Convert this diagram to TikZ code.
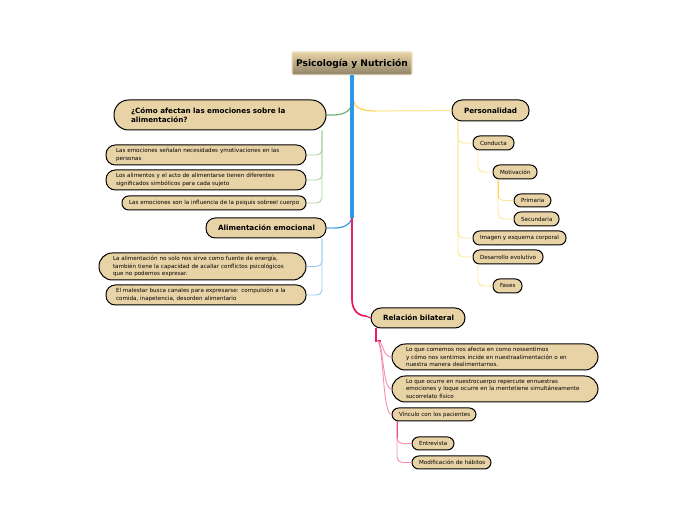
\documentclass[tikz,border=0pt]{standalone}
\usepackage{fontspec}
\setmainfont{DejaVu Sans}
\usetikzlibrary{calc}
\definecolor{fillc}{HTML}{E8D3A6}
\definecolor{gr}{HTML}{6DB36D}\definecolor{grl}{HTML}{A5D6A0}
\definecolor{bl}{HTML}{2E96E6}\definecolor{bll}{HTML}{96CCF3}
\definecolor{ye}{HTML}{FFD54F}\definecolor{yel}{HTML}{FFE798}
\definecolor{pk}{HTML}{E91E63}\definecolor{pkl}{HTML}{F78FB3}
\tikzset{
 topicbox/.style={draw=black,line width=.75pt,fill=fillc,rounded corners=#1,text=black},
 subtxt/.style={font=\fontsize{4.2}{5.5}\selectfont},
 maintxt/.style={font=\bfseries\fontsize{5.4}{7.1}\selectfont,text=black},
 conn/.style={line width=.7pt,rounded corners=4pt},
}
% name, x1,y1,x2,y2, pad, radius, style, text
\newcommand{\tnode}[9]{%
 \pgfmathsetlengthmacro{\tw}{(#4-#2-2*#6)*0.75pt}%
 \pgfmathsetlengthmacro{\tp}{#6*0.75pt}%
 \pgfmathsetlengthmacro{\mw}{(#4-#2)*0.75pt}%
 \pgfmathsetlengthmacro{\mh}{(#5-#3)*0.75pt}%
 \node[topicbox=#7,#8,align=left,text width=\tw,inner xsep=\tp,inner ysep=0pt,minimum width=\mw,minimum height=\mh,anchor=center] (#1) at ({(#2+#4)/2},{(#3+#5)/2}) {\hyphenpenalty=10000 \hbadness=10000 \hfuzz=100pt #9};}
\begin{document}
\begin{tikzpicture}[x=0.75pt,y=-0.75pt]
\useasboundingbox (0,0) rectangle (697,520);
\fill[white] (0,0) rectangle (697,520);
% title
\node[draw=fillc!70!white,line width=.8pt,top color=fillc,bottom color=fillc!55!black!85!fillc,rounded corners=1pt,minimum width=90pt,minimum height=17.2pt,inner sep=0pt,font=\bfseries\fontsize{6.85}{8}\selectfont,text=black] (title) at (352,63.5) {Psicología y Nutrición};
\tnode{q}{114}{100}{326}{130}{17}{11pt}{maintxt}{¿Cómo afectan las emociones sobre la\\alimentación?}
\tnode{n1}{106}{145}{306}{165}{10}{7pt}{subtxt}{\mbox{Las emociones señalan necesidades ymotivaciones en las}\\personas}
\tnode{n2}{106}{170}{306}{190}{10}{7pt}{subtxt}{\mbox{Los alimentos y el acto de alimentarse tienen diferentes}\\significados simbólicos para cada sujeto}
\tnode{n3}{122}{196}{306}{210}{7}{5pt}{subtxt}{\mbox{Las emociones son la influencia de la psiquis sobreel cuerpo}}
\tnode{al}{206}{218}{326}{238}{12}{7pt}{maintxt}{\mbox{Alimentación emocional}}
\tnode{a1}{99}{253}{306}{280}{14}{10pt}{subtxt}{\mbox{La alimentación no solo nos sirve como fuente de energía,}\\\mbox{también tiene la capacidad de acallar conflictos psicológicos}\\que no podemos expresar.}
\tnode{a2}{106}{285}{306}{305}{10}{7pt}{subtxt}{\mbox{El malestar busca canales para expresarse: compulsión a la}\\comida, inapetencia, desorden alimentario}
\tnode{p}{452}{100}{529}{121}{12}{7.5pt}{maintxt}{\mbox{Personalidad}}
\tnode{c}{473}{136}{514}{150}{7}{5pt}{subtxt}{\mbox{Conducta}}
\tnode{m}{493}{165}{537}{179}{7}{5pt}{subtxt}{\mbox{Motivación}}
\tnode{pr}{514}{194}{551}{207}{7}{5pt}{subtxt}{\mbox{Primaria}}
\tnode{se}{514}{212}{559}{226}{7}{5pt}{subtxt}{\mbox{Secundaria}}
\tnode{im}{473}{231}{566}{245}{7}{5pt}{subtxt}{\mbox{Imagen y esquema corporal}}
\tnode{de}{473}{250}{543}{264}{7}{5pt}{subtxt}{\mbox{Desarrollo evolutivo}}
\tnode{fa}{493}{279}{522}{293}{7}{5pt}{subtxt}{\mbox{Fases}}
\tnode{r}{371}{308}{465}{328}{12}{7.5pt}{maintxt}{\mbox{Relación bilateral}}
\tnode{r1}{392}{344}{598}{370}{14}{10pt}{subtxt}{\mbox{Lo que comemos nos afecta en como nossentimos}\\\mbox{y cómo nos sentimos incide en nuestraalimentación o en}\\nuestra manera dealimentarnos.}
\tnode{r2}{392}{376}{598}{402}{14}{10pt}{subtxt}{\mbox{Lo que ocurre en nuestrocuerpo repercute ennuestras}\\\mbox{emociones y loque ocurre en la mentetiene simultáneamente}\\sucorrelato físico}
\tnode{v}{392}{408}{476}{421}{7}{5pt}{subtxt}{\mbox{Vínculo con los pacientes}}
\tnode{en}{412}{437}{454}{450}{7}{5pt}{subtxt}{\mbox{Entrevista}}
\tnode{mo}{412}{456}{491}{469}{7}{5pt}{subtxt}{\mbox{Modificación de hábitos}}
% main branches
\draw[gr,line width=.9pt] (title.south) ++(0,26) .. controls (352,110) and (345,115) .. (333,115) -- (q.east);
\draw[ye,line width=.9pt] (title.south) ++(2,26) .. controls (354,106) and (360,111) .. (375,111);
\draw[yel,line width=.9pt] (375,111) -- (p.west);
\draw[bl,line width=.9pt] (title.south) ++(0,140) .. controls (352,224) and (344,228) .. (335,228);
\draw[bll,line width=.9pt] (335,228) -- (al.east);
\draw[pk,line width=1.9pt] (title.south) ++(0,143) -- (352,300);
\draw[pk,line width=1.3pt] (352,299) .. controls (352,310) and (358,316) .. (366,316);
\draw[pk,line width=.9pt] (366,316) -- (r.west);
\draw[bl,line width=2.4pt] (title.south) -- ++(0,143);
% second level
\foreach \t in {n1,n2,n3} \draw[conn,grl] (q.south -| 322,0) |- (\t.east);
\foreach \t in {a1,a2} \draw[conn,bll] (al.south -| 322,0) |- (\t.east);
\foreach \t in {c,im,de} \draw[conn,yel] (p.south -| 458,0) |- (\t.west);
\draw[conn,yel] (c.south -| 478,0) |- (m.west);
\foreach \t in {pr,se} \draw[conn,yel] (m.south -| 498,0) |- (\t.west);
\draw[ye,line width=.7pt] (m.south -| 498,0) -- (498,198);
\draw[conn,yel] (de.south -| 478,0) |- (fa.west);
\draw[pk,line width=.9pt] (r.south -| 376,0) -- (376,341) -- (381,341);
\foreach \t/\yy in {r1/357,r2/389,v/414}
  \draw[pkl,line width=.7pt] (377,341) .. controls (384,341) and (382,\yy) .. (\t.west);
\foreach \t in {en,mo} \draw[conn,pkl] (v.south -| 397,0) |- (\t.west);
\draw[pk!80!white,line width=.7pt] (v.south -| 397,0) -- (397,438);
\end{tikzpicture}
\end{document}
